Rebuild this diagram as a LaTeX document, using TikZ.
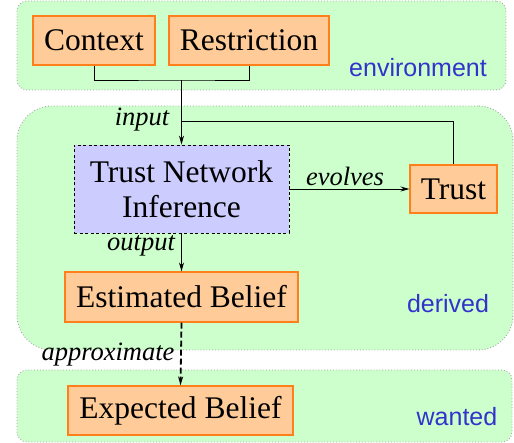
\documentclass[tikz,border=0pt]{standalone}
\usepackage{fontspec}
\setmainfont{Liberation Serif}
\setsansfont{Liberation Sans}
\usetikzlibrary{arrows.meta}
\definecolor{grp}{HTML}{CCFFCC}
\definecolor{box}{HTML}{FFCC99}
\definecolor{boxline}{HTML}{FF7F1A}
\definecolor{tn}{HTML}{CCCCFF}
\definecolor{lbl}{HTML}{3333CC}
\tikzset{
  group/.style={draw=gray!70, dotted, line width=0.9pt, fill=grp, inner sep=0pt},
  obox/.style={draw=boxline, fill=box, line width=1.1pt, inner sep=0pt, font=\fontsize{31.5}{35}\selectfont},
  tbox/.style={draw=black, dashed, dash pattern=on 3pt off 2.5pt, fill=tn, line width=0.8pt, inner sep=0pt, align=center, font=\fontsize{31.5}{35}\selectfont},
  glabel/.style={text=lbl, font=\sffamily\fontsize{25}{28}\selectfont, inner sep=0pt},
  elabel/.style={font=\itshape\fontsize{26.5}{28}\selectfont, inner sep=0pt},
  conn/.style={line width=0.9pt},
  arr/.style={line width=0.9pt, -{Stealth[length=9pt,width=5pt]}},
}
\begin{document}
\begin{tikzpicture}[x=1pt,y=-1pt]
\useasboundingbox (0,0) rectangle (514,443);
% groups
\node[group, rounded corners=10pt, minimum width=489pt, minimum height=89pt] (env) at (261.5,45.5) {};
\node[group, rounded corners=35pt, minimum width=496pt, minimum height=244pt] (der) at (265,228) {};
\node[group, rounded corners=10pt, minimum width=495pt, minimum height=72pt] (want) at (264.5,406) {};
\node[glabel] (envl) at (418,68) {environment};
\node[glabel] (derl) at (448,304) {derived};
\node[glabel] (wantl) at (457,417) {wanted};
% boxes
\node[obox, minimum width=122pt, minimum height=49pt] (ctx) at (94,40.5) {\raisebox{-1.5pt}{Context}};
\node[obox, minimum width=160pt, minimum height=49pt] (res) at (249,40.5) {\raisebox{-1.5pt}{Restriction}};
\node[tbox, minimum width=215pt, minimum height=88pt] (tni) at (181.5,189) {Trust Network\\Inference};
\node[obox, minimum width=87pt, minimum height=48pt] (trust) at (453.5,189) {\raisebox{-1.5pt}{Trust}};
\node[obox, minimum width=233pt, minimum height=50pt] (est) at (181.5,297) {Estimated Belief};
\node[obox, minimum width=225pt, minimum height=49pt] (exp) at (180.5,410.5) {Expected Belief};
% connectors
\coordinate (j) at (181.5,80);
\coordinate (k) at (181.5,121);
\draw[conn] (ctx.south) |- (j) -| (res.south);
\draw[arr] (j) -- (tni.north);
\draw[conn] (k) -| (trust.north);
\node[elabel] (inl) at (142,120) {input};
\draw[arr] (tni.east) -- (trust.west);
\node[elabel] (evl) at (345,176) {evolves};
\draw[arr] (tni.south) -- (est.north);
\node[elabel] (outl) at (141,246) {output};
\draw[arr, dashed, dash pattern=on 6pt off 3pt, line width=1.8pt] (est.south) -- (exp.north);
\node[elabel] (apl) at (108,355) {approximate};
\end{tikzpicture}
\end{document}
